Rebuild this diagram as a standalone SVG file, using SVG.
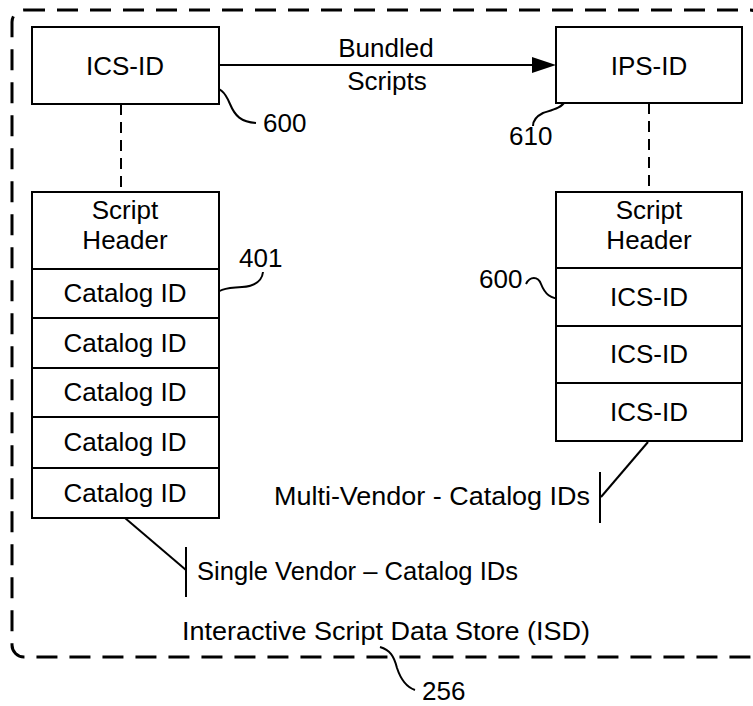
<svg xmlns="http://www.w3.org/2000/svg" width="753" height="706" viewBox="0 0 753 706">
<style>
.t{font-family:"Liberation Sans",Arial,sans-serif;font-size:26px;fill:#000}
.m{text-anchor:middle}
.box{fill:#fff;stroke:#000;stroke-width:2}
.ln{fill:none;stroke:#000;stroke-width:2}
.dash{fill:none;stroke:#000;stroke-width:2;stroke-dasharray:11 7}
</style>
<rect width="753" height="706" fill="#fff"/>
<rect id="isd" x="12" y="10" width="750" height="647" rx="12" fill="none" stroke="#000" stroke-width="3" stroke-dasharray="21 12"/>
<g id="connectors">
<line class="dash" x1="121" y1="104" x2="121" y2="192"/>
<line class="dash" x1="649" y1="103" x2="649" y2="192"/>
<line class="ln" x1="219" y1="65" x2="535" y2="65"/>
<polygon points="532,57 556,65 532,73" fill="#000"/>
<text class="t m" x="386" y="57">Bundled</text>
<text class="t m" x="387" y="90">Scripts</text>
<path class="ln" d="M207,88 C220,86 225,92 230,104 C235,116 241,122 256,123"/>
<text class="t" x="263" y="132">600</text>
<path class="ln" d="M565,92 L565,101 C562,108 552,110 543,113 C535,117 533,121 533,126"/>
<text class="t" x="509" y="145">610</text>
<path class="ln" d="M212,298 C217,290 224,288 242,287 C256,286 262,281 263,272"/>
<text class="t" x="239" y="267">401</text>
<path class="ln" d="M526,284 C530,276 538,276 541,284 C545,294 550,299 563,299"/>
<text class="t" x="479" y="288">600</text>
<line class="ln" x1="600" y1="472" x2="600" y2="523"/>
<line class="ln" x1="601" y1="497" x2="648" y2="442"/>
<text class="t" x="274" y="505" textLength="316" lengthAdjust="spacingAndGlyphs">Multi-Vendor - Catalog IDs</text>
<line class="ln" x1="186" y1="547" x2="186" y2="597"/>
<line class="ln" x1="186" y1="570" x2="125" y2="518"/>
<text class="t" x="197" y="580" textLength="321" lengthAdjust="spacingAndGlyphs">Single Vendor – Catalog IDs</text>
<text class="t" x="182" y="640" textLength="408" lengthAdjust="spacingAndGlyphs">Interactive Script Data Store (ISD)</text>
<path class="ln" d="M380,647 C390,650 394,656 397,668 C401,680 406,687 415,690"/>
<text class="t" x="422" y="700">256</text>
</g>
<g id="ics-id">
<rect class="box" x="32" y="27" width="187" height="77"/>
<text class="t m" x="125" y="75">ICS-ID</text>
</g>
<g id="ips-id">
<rect class="box" x="556" y="27" width="186" height="76"/>
<text class="t m" x="649" y="75">IPS-ID</text>
</g>
<g id="left-stack">
<rect class="box" x="32" y="192" width="187" height="77"/>
<text class="t m" x="125" y="219">Script</text>
<text class="t m" x="125" y="249">Header</text>
<rect class="box" x="32" y="269" width="187" height="49"/>
<text class="t m" x="125" y="302">Catalog ID</text>
<rect class="box" x="32" y="318" width="187" height="50"/>
<text class="t m" x="125" y="352">Catalog ID</text>
<rect class="box" x="32" y="368" width="187" height="49"/>
<text class="t m" x="125" y="401">Catalog ID</text>
<rect class="box" x="32" y="417" width="187" height="51"/>
<text class="t m" x="125" y="451">Catalog ID</text>
<rect class="box" x="32" y="468" width="187" height="50"/>
<text class="t m" x="125" y="502">Catalog ID</text>
</g>
<g id="right-stack">
<rect class="box" x="556" y="192" width="186" height="76"/>
<text class="t m" x="649" y="219">Script</text>
<text class="t m" x="649" y="249">Header</text>
<rect class="box" x="556" y="268" width="186" height="58"/>
<text class="t m" x="649" y="306">ICS-ID</text>
<rect class="box" x="556" y="326" width="186" height="57"/>
<text class="t m" x="649" y="363">ICS-ID</text>
<rect class="box" x="556" y="383" width="186" height="58"/>
<text class="t m" x="649" y="421">ICS-ID</text>
</g>
</svg>
